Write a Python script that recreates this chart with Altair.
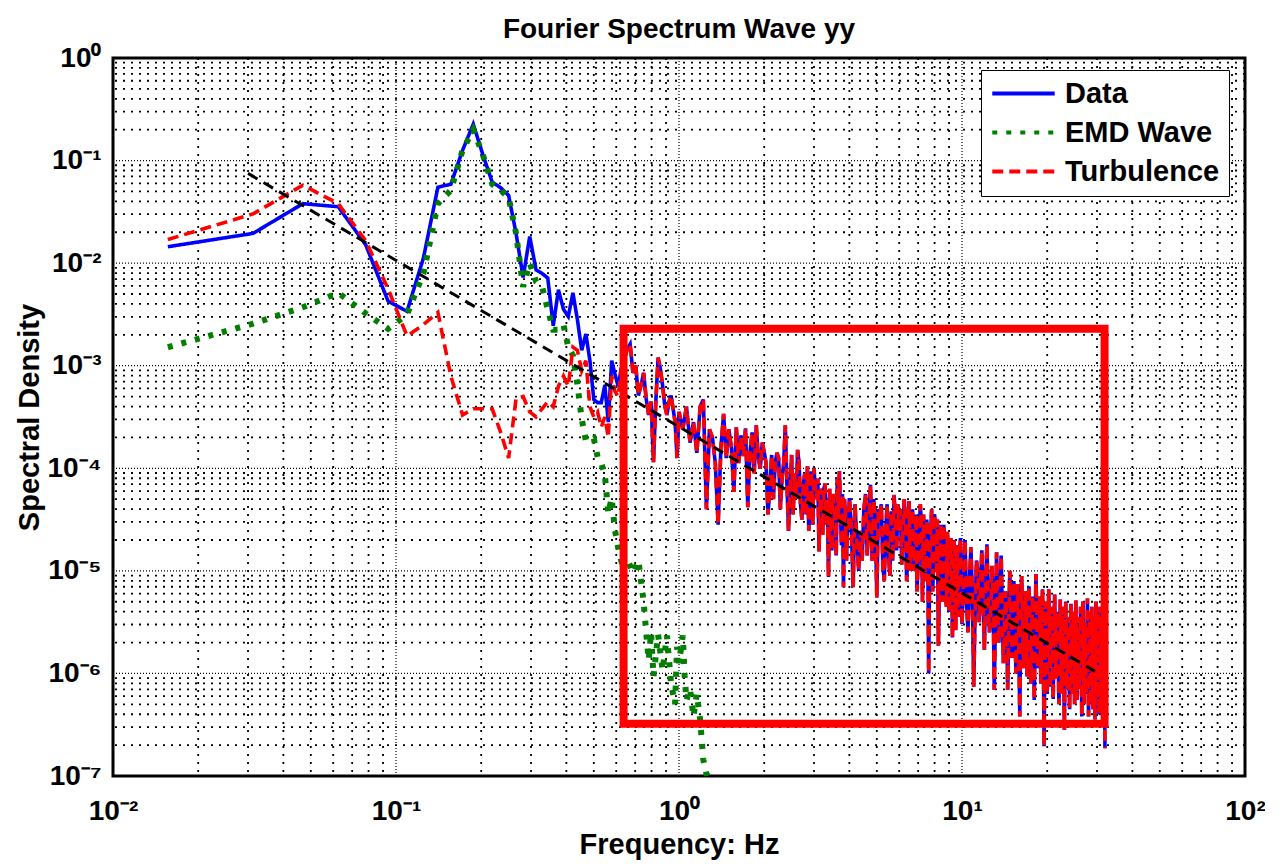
import altair as alt
import pandas as pd

# ---------------- data ----------------
DF_HZ = 1.0 / 64.0  # FFT bin width, frequency = bin * DF_HZ

TITLE = "Fourier Spectrum Wave yy"
X_TITLE = "Frequency: Hz"
Y_TITLE = "Spectral Density"
SERIES = ["Data", "EMD Wave", "Turbulence"]
COLORS = ["#0000FF", "#007F00", "#FF0000"]
WIDTHS = [3.6, 6.0, 3.6]
DASHES = [[1, 0], [5, 9], [11, 6]]

# (bin, log10 spectral density) below the boxed range
DATA_LOW = [(1, -1.84), (2, -1.71), (3, -1.42), (4, -1.45), (5, -1.82), (6, -2.37),
            (7, -2.47), (8, -1.95), (9, -1.26), (10, -1.23), (11, -0.90), (12, -0.645),
            (13, -0.95), (14, -1.21), (15, -1.265), (16, -1.34), (17, -1.71), (18, -2.14),
            (19, -1.74), (20, -2.065), (21, -2.10), (22, -2.145), (23, -2.61), (24, -2.26),
            (25, -2.45), (26, -2.52), (27, -2.29), (28, -2.55), (29, -2.85), (30, -2.69),
            (31, -2.95), (32, -3.33), (33, -3.36), (34, -3.36), (35, -3.19), (36, -3.55),
            (37, -2.95), (38, -3.08), (39, -3.20)]

TURB_LOW = [(1, -1.77), (2, -1.52), (3, -1.24), (4, -1.42), (5, -1.78), (6, -2.25),
            (7, -2.71), (8, -2.60), (9, -2.48), (10, -3.10), (11, -3.48), (12, -3.42),
            (13, -3.42), (14, -3.42), (15, -3.65), (16, -3.90), (17, -3.32), (18, -3.30),
            (19, -3.45), (20, -3.50), (21, -3.42), (22, -3.35), (23, -3.40), (24, -3.20),
            (25, -3.10), (26, -3.20), (27, -2.82), (28, -2.85), (29, -3.05), (30, -2.95),
            (31, -3.40), (32, -3.50), (33, -3.45), (34, -3.60), (35, -3.50), (36, -3.70),
            (37, -3.10), (38, -3.25), (39, -3.30)]

EMD_WAVE = [(1, -2.82), (2, -2.59), (3, -2.43), (4, -2.29), (5, -2.49), (6, -2.64),
            (7, -2.50), (8, -2.10), (9, -1.42), (10, -1.29), (11, -0.90), (12, -0.70),
            (13, -0.95), (14, -1.23), (15, -1.29), (16, -1.36), (17, -1.71), (18, -2.23),
            (19, -2.00), (20, -2.18), (21, -2.23), (22, -2.45), (23, -2.65), (24, -2.65),
            (25, -2.60), (26, -2.82), (27, -2.90), (28, -3.18), (29, -3.52), (30, -3.73),
            (31, -3.73), (32, -3.71), (33, -3.89), (34, -3.95), (35, -4.06), (36, -4.44),
            (37, -4.29), (38, -4.60), (39, -4.77), (40, -4.90), (42, -4.88), (44, -5.02),
            (46, -4.90), (47, -5.10), (48, -5.30), (49, -5.60), (50, -5.87), (51, -5.60),
            (52, -6.03), (54, -5.62), (56, -5.97), (58, -5.63), (60, -6.10), (62, -6.30),
            (63, -5.74), (64, -5.90), (66, -5.63), (67, -6.02), (68, -6.26), (70, -6.15),
            (72, -6.42), (74, -6.20), (76, -6.45), (78, -6.84), (80, -6.98), (84, -7.05),
            (88, -7.40)]

# boxed range, where Data and Turbulence coincide
SEG_A = [(40, -3.03), (41, -2.94), (42, -2.84), (43, -2.79), (44, -3.07), (45, -3.00),
         (46, -3.29), (47, -3.19), (48, -3.07), (49, -3.32), (50, -3.48), (51, -3.35),
         (52, -3.94), (53, -3.35), (54, -2.92), (55, -3.03), (56, -3.19), (57, -3.39),
         (58, -3.48), (59, -3.35), (60, -3.29), (61, -3.42), (62, -3.55), (63, -3.90),
         (64, -3.45)]
SEG_B = [(66, -3.62), (68, -3.40), (70, -3.75), (72, -3.55), (74, -3.85), (76, -3.40),
         (78, -3.33), (80, -4.40), (82, -3.62), (84, -3.70), (86, -3.95), (88, -4.55),
         (90, -3.80), (92, -3.47), (94, -3.90), (96, -3.62), (98, -3.80), (100, -4.23),
         (102, -3.60), (104, -3.95), (106, -3.68), (108, -3.88), (110, -3.61), (112, -4.38),
         (114, -3.85), (116, -3.65), (118, -4.05), (120, -3.58), (122, -3.90), (124, -4.00),
         (126, -3.75), (128, -3.84)]
SEG_C = [(132, -4.45), (136, -3.87), (140, -3.95), (144, -3.90), (148, -4.10), (152, -3.58),
         (156, -4.61), (160, -3.87), (164, -4.05), (168, -3.82), (172, -4.35), (176, -4.16),
         (180, -4.45), (184, -4.61), (188, -4.03), (192, -4.00), (196, -4.30), (200, -4.81),
         (204, -4.29), (208, -4.20), (212, -4.55), (216, -5.06), (220, -4.61), (224, -4.25),
         (228, -4.55), (232, -4.10), (236, -4.03), (240, -4.75), (244, -5.16), (248, -4.45),
         (252, -4.60), (256, -4.29)]
SEG_C2 = [(130, -3.95), (134, -4.20), (138, -4.30), (142, -3.85), (146, -4.40), (150, -3.95),
          (154, -4.15), (158, -4.20), (162, -4.45), (166, -4.30), (170, -3.95), (174, -4.50),
          (178, -4.05), (182, -3.98), (186, -4.25), (190, -4.55), (194, -4.20), (198, -4.10),
          (202, -4.20), (206, -4.65), (210, -4.15), (214, -4.35), (218, -4.20), (222, -4.80),
          (226, -4.40), (230, -4.85), (234, -4.50), (238, -4.40), (242, -4.25), (246, -4.30),
          (250, -4.90), (254, -4.55)]
SEG_D = [(264, -5.16), (272, -4.70), (280, -4.61), (288, -4.40), (296, -4.85), (304, -4.16),
         (312, -4.30), (320, -5.26), (328, -4.45), (336, -4.95), (344, -4.61), (352, -4.84),
         (360, -4.42), (368, -4.26), (376, -4.80), (384, -4.61), (392, -4.94), (400, -4.30),
         (408, -5.10), (416, -4.32), (424, -4.70), (432, -5.00), (440, -4.45), (448, -4.90),
         (456, -4.35), (464, -5.30), (472, -4.94), (480, -4.50), (488, -6.00), (496, -4.61),
         (504, -5.20), (512, -4.45), (520, -5.00), (528, -5.73), (536, -4.77), (544, -5.30),
         (552, -4.55), (560, -5.25), (568, -4.62), (576, -5.40), (584, -4.68), (592, -5.65),
         (600, -4.70), (608, -5.58), (616, -4.75), (624, -5.30), (632, -4.68), (640, -5.52)]
SEG_D2 = [(260, -4.55), (268, -4.35), (276, -5.00), (284, -4.90), (292, -4.25), (300, -4.50),
          (308, -4.90), (316, -4.50), (324, -4.40), (332, -4.35), (340, -5.10), (348, -4.35),
          (356, -5.05), (364, -4.90), (372, -4.45), (380, -4.35), (388, -4.40), (396, -4.60),
          (404, -4.50), (412, -4.75), (420, -5.00), (428, -4.40), (436, -4.80), (444, -5.20),
          (452, -4.60), (460, -4.55), (468, -4.45), (476, -5.10), (484, -4.60), (492, -4.85),
          (500, -4.40), (508, -4.95), (516, -4.60), (524, -4.50), (532, -5.20), (540, -4.55),
          (548, -5.10), (556, -4.80), (564, -5.35), (572, -4.75), (580, -4.90), (588, -4.85),
          (596, -5.15), (604, -4.90), (612, -5.00), (620, -5.45), (628, -4.85), (636, -5.05)]
SEG_E = [(656, -4.70), (672, -5.60), (688, -4.77), (704, -6.13), (720, -4.90), (736, -5.50),
         (752, -4.80), (768, -5.77), (784, -4.74), (800, -5.60), (816, -4.95), (832, -6.16),
         (848, -4.82), (864, -5.70), (880, -4.85), (896, -5.90), (912, -5.20), (928, -6.16),
         (944, -5.00), (960, -5.85), (976, -5.10), (992, -6.00), (1008, -5.13), (1024, -6.42),
         (1040, -5.05), (1056, -5.95), (1072, -5.20), (1088, -6.03), (1104, -5.15), (1120, -6.10),
         (1136, -5.25), (1152, -6.26), (1168, -5.03), (1184, -5.95), (1200, -5.25), (1216, -6.10),
         (1232, -5.18), (1248, -6.71), (1264, -5.30), (1280, -6.20), (1296, -5.18), (1312, -6.13),
         (1328, -5.35), (1344, -6.25), (1360, -5.23), (1376, -6.05), (1392, -5.40), (1408, -6.30),
         (1424, -5.28), (1440, -6.20), (1456, -5.35), (1472, -6.55), (1488, -5.30), (1504, -6.15),
         (1520, -5.45), (1536, -6.35), (1552, -5.32), (1568, -6.20), (1584, -5.40), (1600, -6.30),
         (1616, -5.29), (1632, -6.26), (1648, -5.45), (1664, -6.15), (1680, -5.35), (1696, -6.42),
         (1712, -5.30), (1728, -6.30), (1744, -5.50), (1760, -6.20), (1776, -5.27), (1792, -6.42),
         (1808, -5.40), (1824, -6.30), (1840, -5.35), (1856, -6.35), (1872, -5.45), (1888, -6.45),
         (1904, -5.30), (1920, -6.25), (1936, -5.40), (1952, -6.40), (1968, -5.35), (1984, -6.30),
         (2000, -5.45), (2016, -6.35), (2032, -5.50), (2048, -6.73)]
SEG_E2 = [(664, -5.30), (680, -5.10), (696, -5.20), (712, -5.40), (728, -5.00), (744, -5.15),
          (760, -5.30), (776, -5.10), (792, -5.25), (808, -5.45), (824, -5.20), (840, -5.50),
          (856, -5.40), (872, -5.25), (888, -5.35), (904, -5.60), (920, -5.45), (936, -5.55),
          (952, -5.35), (968, -5.60), (984, -5.40), (1000, -5.50), (1016, -5.70), (1032, -5.55),
          (1048, -5.45), (1064, -5.70), (1080, -5.40), (1096, -5.65), (1112, -5.50), (1128, -5.70),
          (1144, -5.55), (1160, -5.60), (1176, -5.45), (1192, -5.75), (1208, -5.60), (1224, -5.55),
          (1240, -5.70), (1256, -5.80), (1272, -5.65)]

# power-law fit (black dashed)
FIT_F = [0.030, 29.5]
FIT_V = [0.075, 1.05e-6]

# highlighted box (Hz, spectral density)
BOX_F = [0.637, 31.9]
BOX_V = [3.24e-7, 2.29e-3]

X_MAJOR = [0.01, 0.1, 1, 10, 100]
X_MINOR = [0.02, 0.03, 0.04, 0.05, 0.06, 0.07, 0.08, 0.09,
           0.2, 0.3, 0.4, 0.5, 0.6, 0.7, 0.8, 0.9,
           2, 3, 4, 5, 6, 7, 8, 9,
           20, 30, 40, 50, 60, 70, 80, 90]
Y_MAJOR = [1e-7, 1e-6, 1e-5, 1e-4, 1e-3, 1e-2, 1e-1, 1]
Y_MINOR = [m * d for d in [1e-7, 1e-6, 1e-5, 1e-4, 1e-3, 1e-2, 1e-1] for m in [2, 3, 4, 5, 6, 7, 8, 9]]

X_LABELS = ["10⁻²", "10⁻¹", "10⁰", "10¹", "10²"]
Y_LABELS = ["10⁻⁷", "10⁻⁶", "10⁻⁵", "10⁻⁴", "10⁻³", "10⁻²", "10⁻¹", "10⁰"]

# ---------------- tables ----------------
NOISY = SEG_A + SEG_B + SEG_C + SEG_C2 + SEG_D + SEG_D2 + SEG_E + SEG_E2


def table(name, pairs):
    pairs = sorted(pairs)
    i = SERIES.index(name)
    return pd.DataFrame({
        "series": name,
        "f": [k * DF_HZ for k, _ in pairs],
        "v": [10.0 ** lv for _, lv in pairs],
        "w": WIDTHS[i],
    })


data_df = table("Data", DATA_LOW + NOISY)
emd_df = table("EMD Wave", EMD_WAVE)
turb_df = table("Turbulence", TURB_LOW + NOISY)
fit_df = pd.DataFrame({"f": FIT_F, "v": FIT_V})
box_df = pd.DataFrame({"f0": [BOX_F[0]], "f1": [BOX_F[1]], "v0": [BOX_V[0]], "v1": [BOX_V[1]]})

FONT = "Liberation Sans"
XS = alt.Scale(type="log", domain=[0.01, 100], nice=False)
YS = alt.Scale(type="log", domain=[1e-7, 1], nice=False)

x_label_expr = "[" + ",".join("'%s'" % s for s in X_LABELS) + "][round(log(datum.value)/LN10)+2]"
y_label_expr = "[" + ",".join("'%s'" % s for s in Y_LABELS) + "][round(log(datum.value)/LN10)+7]"

X_AXIS = alt.Axis(values=X_MAJOR, labelExpr=x_label_expr, title=X_TITLE, grid=False, ticks=False,
                  domain=False, labelFont=FONT, labelFontSize=28, labelFontWeight="bold",
                  labelColor="black", labelPadding=21, labelFlush=False, labelOverlap=False,
                  titleFont=FONT, titleFontSize=29, titleFontWeight="bold", titleColor="black",
                  titlePadding=5)
Y_AXIS = alt.Axis(values=Y_MAJOR, labelExpr=y_label_expr, title=Y_TITLE, grid=False, ticks=False,
                  domain=False, labelFont=FONT, labelFontSize=28, labelFontWeight="bold",
                  labelColor="black", labelPadding=12, labelFlush=False, labelOverlap=False,
                  labelBaseline="middle",
                  titleFont=FONT, titleFontSize=29, titleFontWeight="bold", titleColor="black",
                  titlePadding=3)

LEGEND = alt.Legend(title=None, orient="none", legendX=868, legendY=12, symbolType="stroke",
                    symbolSize=3900, clipHeight=29, symbolStrokeWidth=4,
                    labelFont=FONT, labelFontSize=29,
                    labelFontWeight="bold", labelColor="black", labelOffset=8, rowPadding=9,
                    padding=9, strokeColor="black", fillColor="white")

color_enc = alt.Color("series:N", scale=alt.Scale(domain=SERIES, range=COLORS), legend=LEGEND)
dash_enc = alt.StrokeDash("series:N", scale=alt.Scale(domain=SERIES, range=DASHES), legend=LEGEND)


def grid_x(values, dash, width):
    return alt.Chart(pd.DataFrame({"f": values})).mark_rule(
        color="black", strokeWidth=width, strokeDash=dash
    ).encode(x=alt.X("f:Q", scale=XS, axis=X_AXIS))


def grid_y(values, dash, width):
    return alt.Chart(pd.DataFrame({"v": values})).mark_rule(
        color="black", strokeWidth=width, strokeDash=dash
    ).encode(y=alt.Y("v:Q", scale=YS, axis=Y_AXIS))


def series_line(df):
    return alt.Chart(df).mark_line(clip=True, strokeCap="butt", strokeJoin="miter").encode(
        x=alt.X("f:Q", scale=XS, axis=X_AXIS),
        y=alt.Y("v:Q", scale=YS, axis=Y_AXIS),
        color=color_enc, strokeDash=dash_enc,
        strokeWidth=alt.StrokeWidth("w:Q", scale=None, legend=None),
        order=alt.Order("f:Q"),
    )


fit = alt.Chart(fit_df).mark_line(color="black", strokeWidth=3, strokeDash=[11, 7], clip=True).encode(
    x=alt.X("f:Q", scale=XS, axis=X_AXIS), y=alt.Y("v:Q", scale=YS, axis=Y_AXIS)
)

box = alt.Chart(box_df).mark_rect(filled=False, stroke="#FF0000", strokeWidth=8).encode(
    x=alt.X("f0:Q", scale=XS, axis=X_AXIS), x2="f1:Q",
    y=alt.Y("v1:Q", scale=YS, axis=Y_AXIS), y2="v0:Q",
)

chart = alt.layer(
    grid_x(X_MINOR, [2, 6], 1.8),
    grid_y(Y_MINOR, [2, 6], 1.8),
    grid_x(X_MAJOR, [1, 2], 1.2),
    grid_y(Y_MAJOR, [1, 2], 1.2),
    series_line(data_df),
    series_line(emd_df),
    series_line(turb_df),
    fit,
    box,
).properties(
    width=1132,
    height=718,
    title=alt.Title(TITLE, font=FONT, fontSize=28, fontWeight="bold", color="black",
                    anchor="middle", offset=0),
    autosize=alt.AutoSizeParams(type="none"),
    padding={"left": 105, "top": 50, "right": 20, "bottom": 86},
).configure_view(stroke="black", strokeWidth=3)

chart.save("out.html", embed_options={"renderer": "svg", "actions": False})
